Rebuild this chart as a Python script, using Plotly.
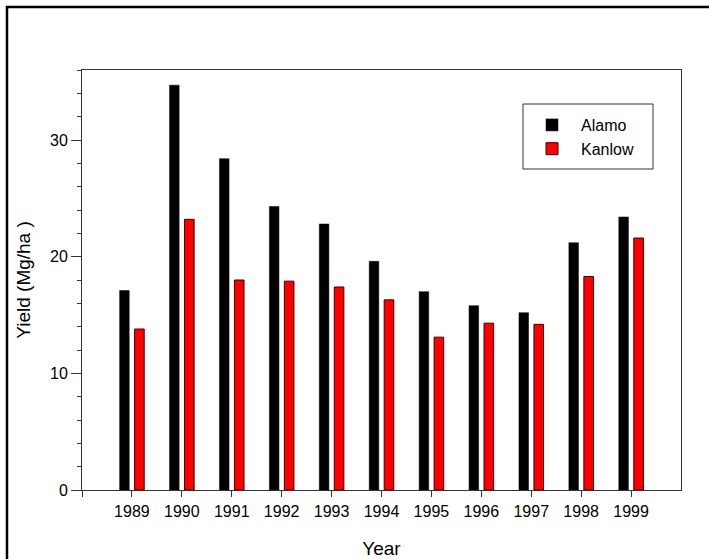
import plotly.graph_objects as go

years = [1989, 1990, 1991, 1992, 1993, 1994, 1995, 1996, 1997, 1998, 1999]
alamo = [17.1, 34.7, 28.4, 24.3, 22.8, 19.6, 17.0, 15.8, 15.2, 21.2, 23.4]
kanlow = [13.8, 23.2, 18.0, 17.9, 17.4, 16.3, 13.1, 14.3, 14.2, 18.3, 21.6]
x_ticks = [1988] + years
x_labels = [""] + [str(y) for y in years]
y_ticks = [0, 10, 20, 30]

FONT = "Liberation Sans, Arial, sans-serif"

fig = go.Figure()
fig.add_trace(go.Bar(x=years, y=alamo, name="Alamo",
                     marker=dict(color="black", line=dict(color="black", width=0.5))))
fig.add_trace(go.Bar(x=years, y=kanlow, name="Kanlow",
                     marker=dict(color="#ff0000", line=dict(color="#3a0000", width=1))))

W, H = 709, 559
L, R, T, B = 82, 681, 70, 490


def px(xp):
    return (xp - L) / (R - L)


def py(yp):
    return (B - yp) / (B - T)


fig.update_layout(
    width=W, height=H,
    margin=dict(l=L, r=W - R, t=T, b=H - B, pad=0, autoexpand=False),
    paper_bgcolor="white", plot_bgcolor="white",
    barmode="group", bargap=0.4, bargroupgap=0.36,
    font=dict(family=FONT, size=16, color="black"),
    showlegend=True,
    legend=dict(x=px(523), y=py(108), xanchor="left", yanchor="top",
                bgcolor="rgba(0,0,0,0)", borderwidth=0,
                font=dict(family=FONT, size=16, color="black"),
                itemwidth=48),
    xaxis=dict(range=[1988, 2000], tickmode="array", tickvals=x_ticks, ticktext=x_labels,
               ticks="outside", ticklen=6, tickcolor="#333", showline=True, linecolor="#333",
               linewidth=1, mirror=True, showgrid=False, zeroline=False, automargin=False,
               ticklabelstandoff=1,
               tickfont=dict(family=FONT, size=16),
               title=dict(text="Year", font=dict(family=FONT, size=19), standoff=22)),
    yaxis=dict(range=[0, 36], tickmode="array", tickvals=y_ticks,
               ticks="outside", ticklen=10, tickcolor="#333", showline=True, linecolor="#333",
               linewidth=1, mirror=True, showgrid=False, zeroline=False, automargin=False,
               minor=dict(dtick=2, ticks="outside", ticklen=4, tickcolor="#333"),
               tickfont=dict(family=FONT, size=16),
               title=dict(text="Yield (Mg/ha )", font=dict(family=FONT, size=19), standoff=14)),
)

# legend box
fig.add_shape(type="rect", xref="paper", yref="paper",
              x0=px(523), x1=px(653), y0=py(169), y1=py(104),
              line=dict(color="#333", width=1), fillcolor="white", layer="above")

# outer page frame (its right and bottom sides lie outside the picture)
fig.add_shape(type="rect", xref="paper", yref="paper",
              x0=px(7), x1=px(760), y0=py(600), y1=py(7),
              line=dict(color="black", width=2.5), fillcolor="rgba(0,0,0,0)", layer="below")

fig.write_html("out.html", config={"displayModeBar": False},
               post_script="document.body.style.margin='0';document.body.style.overflow='hidden';")
